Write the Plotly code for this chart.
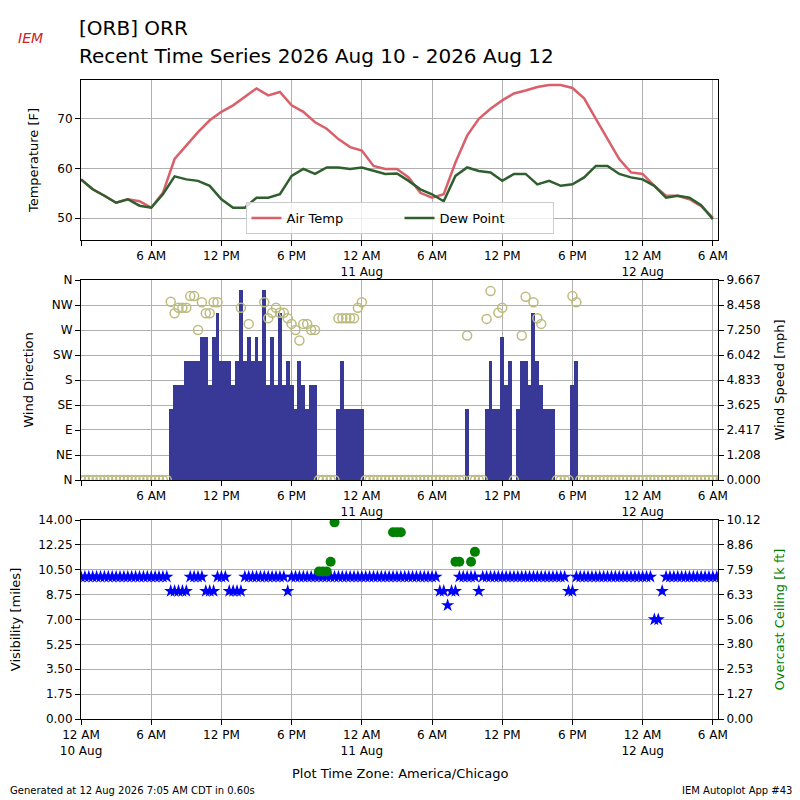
import pandas as pd
import plotly.graph_objects as go
from plotly.subplots import make_subplots

# ---- data ----
hours = list(range(55))
air_temp = [57.8,55.8,54.5,53.1,53.8,53.4,52.1,55.1,61.9,64.6,67.3,69.7,71.4,72.7,74.4,76.1,74.7,75.4,72.7,71.4,
            69.3,68.0,65.9,64.3,63.6,60.5,59.9,59.9,58.2,55.1,54.1,54.8,61.2,66.6,70.0,72.0,73.7,75.1,75.7,76.4,
            76.8,76.8,76.2,74.1,70.0,65.9,61.9,59.2,58.9,56.5,54.5,54.5,53.8,52.4,50.1]
dew_point = [57.8,55.8,54.5,53.1,53.8,52.5,52.1,54.8,58.4,57.8,57.5,56.5,53.8,52.1,52.1,54.1,54.1,54.8,58.5,59.9,
             58.9,60.2,60.2,59.9,60.2,59.5,58.9,59.0,57.5,55.8,54.8,53.4,58.5,60.2,59.5,59.2,57.5,58.9,58.9,56.8,
             57.5,56.5,56.8,58.2,60.5,60.5,58.9,58.2,57.8,56.5,54.1,54.5,54.1,52.6,49.8]

# 20-minute observations, index 0 = 2026-08-10 00:00
wind_kt = ([0]*23 + [3,4,4,4,5,5,5,5,6,6,4,6,7,5,5,5,4,5,8,5,6,5,6,5,8,4,6,4,7,4,5,4,3,5,4,3,4,4]
           + [0]*5 + [3,5,3,3,3,3,3] + [0]*26 + [3] + [0]*4
           + [3,5,3,3,6,4,5,0,3,5,5,4,7,5,4,3,3,3] + [0]*4 + [4,5] + [0]*37)
wind_dir = ([0]*23 + [321,300,310,310,310,331,331,270,320,300,300,320,320,None,None,None,None,None,310,None,
                      281,None,None,None,320,291,301,310,301,301,291,281,270,251,281,281,270,270]
            + [0]*5 + [291,291,291,291,291,310,320] + [0]*26 + [260] + [0]*4
            + [290,340,None,301,310,None,None,0,None,260,330,None,320,291,281,None,None,None] + [0]*4
            + [331,320] + [0]*37)
visibility = ([10]*23 + [9]*5 + [10]*4 + [9]*3 + [10]*3 + [9]*4 + [10]*11 + [9] + [10]*38
              + [9,9,8,9,9] + [10]*5 + [9] + [10]*22 + [9,9] + [10]*20 + [7,7,9] + [10]*15)
ceil_idx = [61,62,63,64,65,80,81,82,96,97,100,101]
ceil_kft = [7.5,7.5,7.5,8.0,10.0,9.5,9.5,9.5,8.0,8.0,8.0,8.5]

tick_hours = [0,6,12,18,24,30,36,42,48,54]
tick_text_full = ["12 AM<br>10 Aug","6 AM","12 PM","6 PM","12 AM<br>11 Aug","6 AM","12 PM","6 PM","12 AM<br>12 Aug","6 AM"]
tick_text_top = [""] + tick_text_full[1:]
dir_ticks = [0,45,90,135,180,225,270,315,360]
dir_labels = ["N","NE","E","SE","S","SW","W","NW","N"]
spd_ticks = [0,1.208,2.417,3.625,4.833,6.042,7.250,8.458,9.667]
vis_ticks = [0,1.75,3.5,5.25,7,8.75,10.5,12.25,14]
ceil_ticks = [0,1.27,2.53,3.80,5.06,6.33,7.59,8.86,10.12]

t0 = pd.Timestamp("2026-08-10 00:00")
t_hour = [t0 + pd.Timedelta(hours=h) for h in hours]
t20 = [t0 + pd.Timedelta(minutes=20*i) for i in range(len(wind_kt))]
t_ceil = [t0 + pd.Timedelta(minutes=20*i) for i in ceil_idx]
tickvals = [t0 + pd.Timedelta(hours=h) for h in tick_hours]
xr = [t0, t0 + pd.Timedelta(hours=54.44)]

fig = make_subplots(rows=3, cols=1, specs=[[{"secondary_y": True}]]*3)

fig.add_trace(go.Scatter(x=t_hour, y=air_temp, mode="lines", name="Air Temp",
                         line=dict(color="#d9606a", width=2.5)), row=1, col=1)
fig.add_trace(go.Scatter(x=t_hour, y=dew_point, mode="lines", name="Dew Point",
                         line=dict(color="#2f5f2f", width=2.5)), row=1, col=1)

fig.add_trace(go.Bar(x=t20, y=[k*1.15078 for k in wind_kt], width=1200000, marker=dict(color="#383896", line=dict(width=0)),
                     showlegend=False), row=2, col=1, secondary_y=False)
fig.add_trace(go.Scatter(x=t20, y=wind_dir, mode="markers", showlegend=False,
                         marker=dict(symbol="circle-open", size=9, color="#bcbc80", line=dict(width=1.5))),
              row=2, col=1, secondary_y=True)

fig.add_trace(go.Scatter(x=t20, y=visibility, mode="markers", showlegend=False,
                         marker=dict(symbol="star", size=10, color="#0000ff")), row=3, col=1)
fig.add_trace(go.Scatter(x=t_ceil, y=ceil_kft, mode="markers", showlegend=False,
                         marker=dict(symbol="circle", size=10, color="#008000")), row=3, col=1, secondary_y=True)

ax = dict(showline=True, linecolor="black", mirror=True, ticks="outside", tickcolor="black", automargin=False,
          gridcolor="#b0b0b0", zeroline=False, tickfont=dict(size=12, color="black"))
H = 639.0
doms = [[(719-240)/H, 1.0], [(719-480)/H, (719-280)/H], [0.0, (719-520)/H]]
for i, dom in enumerate(doms):
    n = "" if i == 0 else str(i+1)
    fig.layout["xaxis"+n].update(**ax, range=xr, tickvals=tickvals, domain=[0, 1],
                                 ticktext=tick_text_top if i < 2 else tick_text_full)
    fig.layout["xaxis"+n].update(matches=None)

sec = dict(showgrid=False, ticks="outside", tickcolor="black", automargin=False,
           tickfont=dict(size=12, color="black"))
fig.layout.yaxis.update(**ax, domain=doms[0], range=[45.6, 77.8], tickvals=[50,60,70],
                        title=dict(text="Temperature [F]", font=dict(size=13)))
fig.layout.yaxis2.update(domain=doms[0], showticklabels=False, showgrid=False, automargin=False)
fig.layout.yaxis3.update(**ax, domain=doms[1], side="right", range=[0, 9.667], tickvals=spd_ticks,
                         ticktext=["%.3f" % v for v in spd_ticks],
                         title=dict(text="Wind Speed [mph]", font=dict(size=13)))
fig.layout.yaxis4.update(**sec, domain=doms[1], side="left", range=[0, 360], tickvals=dir_ticks, ticktext=dir_labels,
                         title=dict(text="Wind Direction", font=dict(size=13)))
fig.layout.yaxis5.update(**ax, domain=doms[2], range=[0, 14], tickvals=vis_ticks,
                         ticktext=["%.2f" % v for v in vis_ticks],
                         title=dict(text="Visibility [miles]", font=dict(size=13)))
fig.layout.yaxis6.update(**sec, domain=doms[2], range=[0, 10.12], tickvals=ceil_ticks,
                         ticktext=["%.2f" % v for v in ceil_ticks],
                         title=dict(text="Overcast Ceiling [k ft]", font=dict(size=13, color="green")))

fig.update_layout(
    width=800, height=800, margin=dict(l=73, r=90, t=72, b=89, autoexpand=False),
    paper_bgcolor="white", plot_bgcolor="white", bargap=0,
    font=dict(family="DejaVu Sans", color="black"),
    legend=dict(orientation="h", x=0.5, xanchor="center", y=(719-218)/H, yanchor="middle",
                bordercolor="#cccccc", borderwidth=1, bgcolor="rgba(255,255,255,0.8)", font=dict(size=13),
                entrywidth=108),
)

def ann_px(text, x, y, size, xanchor="left", color="black", style="normal"):
    fig.add_annotation(text=text, x=(x-81)/637, y=(719-y)/639, xref="paper", yref="paper", showarrow=False,
                       xanchor=xanchor, yanchor="middle", font=dict(size=size, color=color, style=style))
ann_px("[ORB] ORR", 77, 28, 20)
ann_px("Recent Time Series 2026 Aug 10 - 2026 Aug 12", 77, 56, 20)
ann_px("IEM", 30, 38, 14, xanchor="center", color="#cc2222", style="italic")
ann_px("Plot Time Zone: America/Chicago", 400, 774, 13, xanchor="center")
ann_px("Generated at 12 Aug 2026 7:05 AM CDT in 0.60s", 8, 790, 10)
ann_px("IEM Autoplot App #43", 794, 790, 10, xanchor="right")

fig.write_html("out.html")
